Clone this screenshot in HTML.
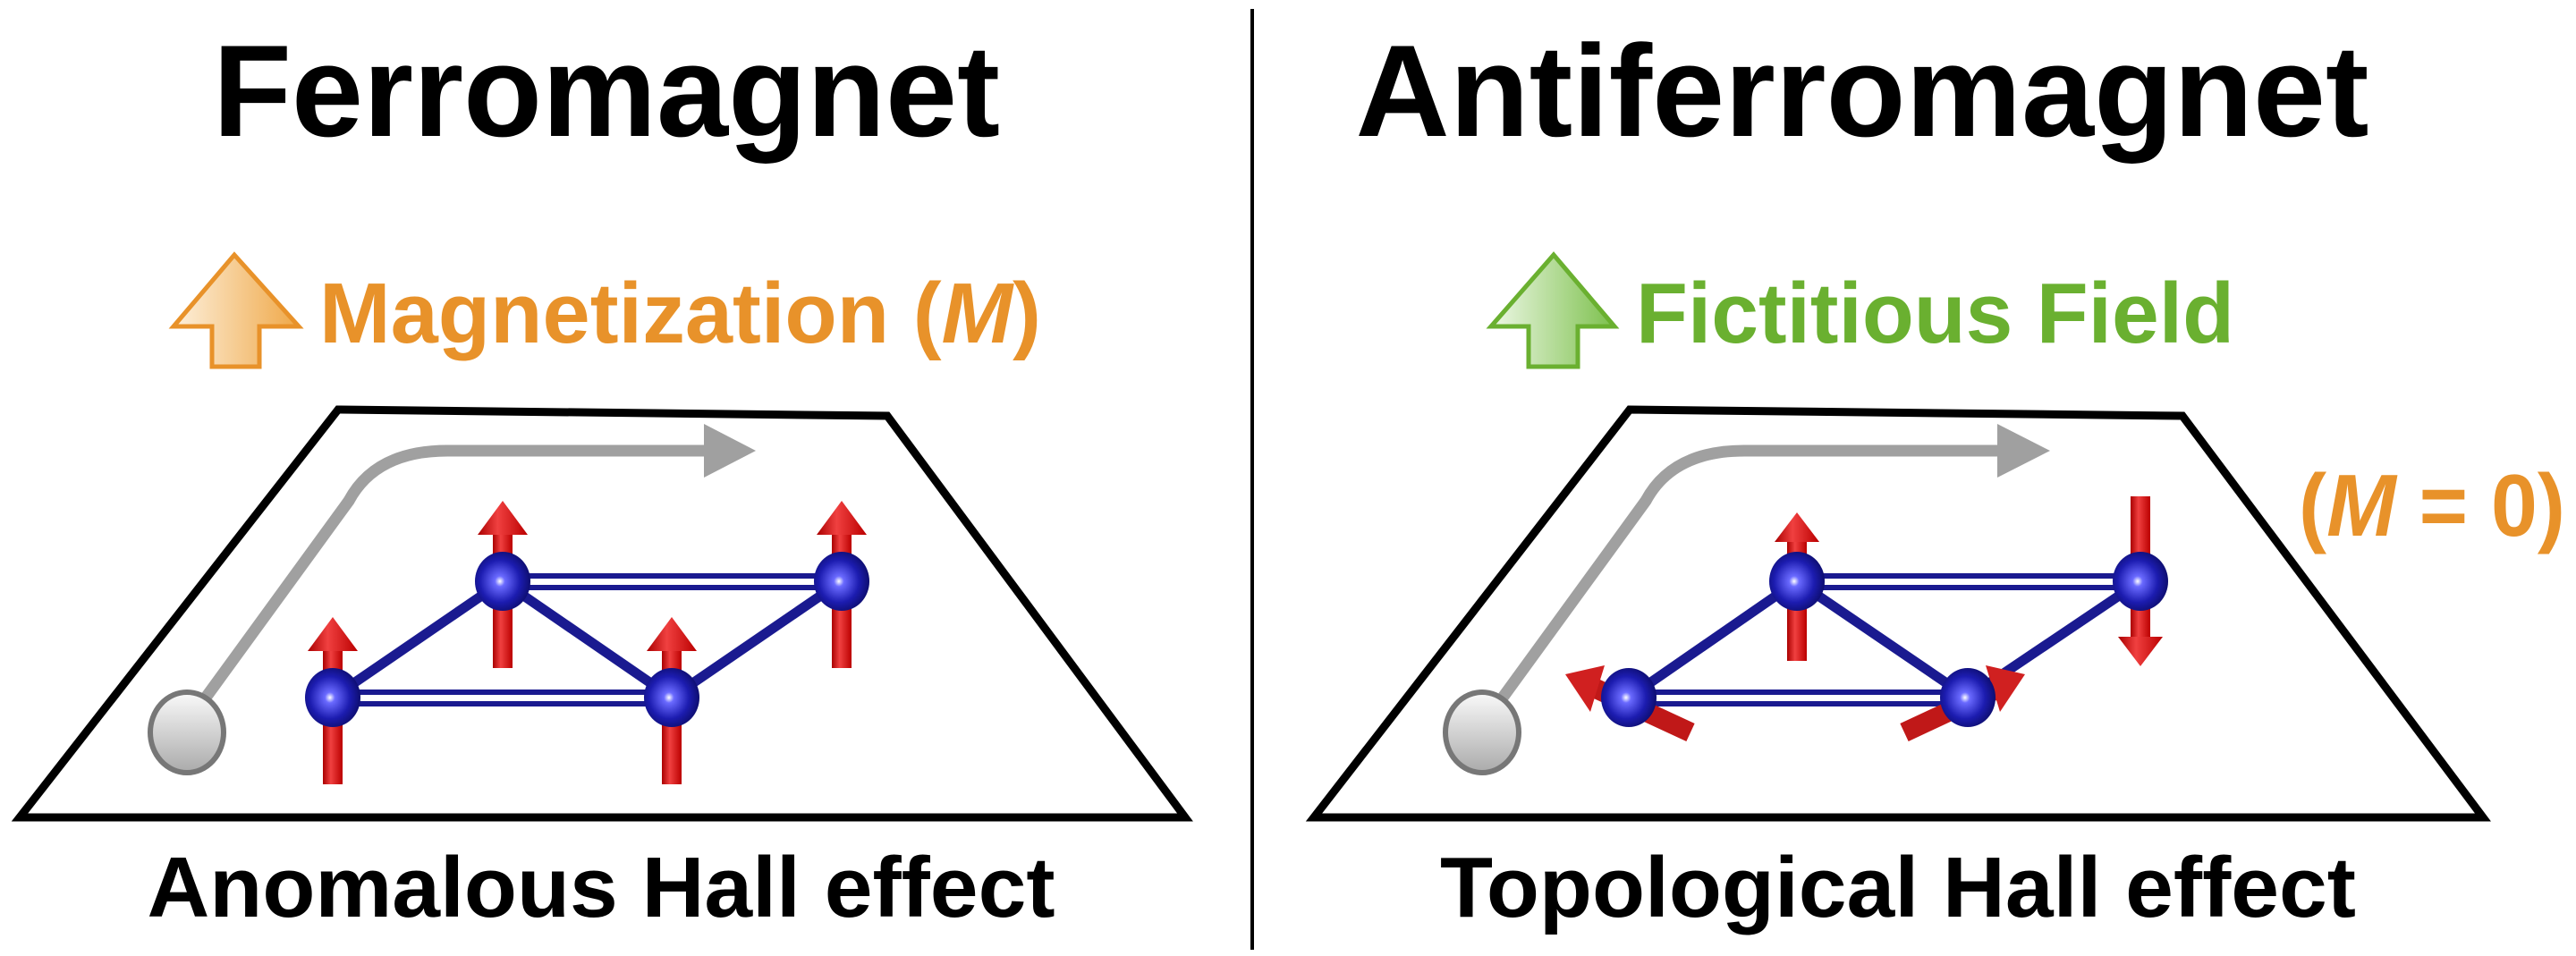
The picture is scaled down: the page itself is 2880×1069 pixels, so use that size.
<!DOCTYPE html>
<html><head><meta charset="utf-8"><style>html,body{margin:0;padding:0;background:#fff}svg{display:block}</style></head><body>
<svg width="2880" height="1069" viewBox="0 0 2880 1069" xmlns="http://www.w3.org/2000/svg" font-family="'Liberation Sans', sans-serif" font-weight="bold">
<defs>
<radialGradient id="sph" cx="0.45" cy="0.5" r="0.6"><stop offset="0" stop-color="#ffffff"/><stop offset="0.15" stop-color="#6a6aff"/><stop offset="0.6" stop-color="#1c1cb0"/><stop offset="1" stop-color="#0a0a60"/></radialGradient>
<linearGradient id="red" x1="0" x2="1"><stop offset="0" stop-color="#a00"/><stop offset="0.4" stop-color="#f04040"/><stop offset="1" stop-color="#b00"/></linearGradient>
<linearGradient id="gball" x1="0" y1="0" x2="0" y2="1"><stop offset="0" stop-color="#fafafa"/><stop offset="1" stop-color="#aaa"/></linearGradient>
<linearGradient id="og" x1="0" x2="1"><stop offset="0" stop-color="#fdf0dc"/><stop offset="1" stop-color="#efa848"/></linearGradient>
<linearGradient id="gg" x1="0" x2="1"><stop offset="0" stop-color="#eef8e6"/><stop offset="1" stop-color="#7cc04c"/></linearGradient>
</defs>
<line x1="1400" y1="10" x2="1400" y2="1062" stroke="#000" stroke-width="4"/>
<text x="678" y="152" font-size="146" text-anchor="middle" textLength="880" lengthAdjust="spacingAndGlyphs">Ferromagnet</text>
<text x="2082" y="152" font-size="146" text-anchor="middle" textLength="1133" lengthAdjust="spacingAndGlyphs">Antiferromagnet</text>
<path d="M262,285 L334,365 L290,365 L290,410 L237,410 L237,365 L194,365 Z" fill="url(#og)" stroke="#e8922a" stroke-width="5"/>
<text x="357" y="383" font-size="96" fill="#e8922a" textLength="807" lengthAdjust="spacingAndGlyphs">Magnetization (<tspan font-style="italic">M</tspan>)</text>
<path d="M1737,285 L1805,365 L1764,365 L1764,410 L1709,410 L1709,365 L1667,365 Z" fill="url(#gg)" stroke="#6ab030" stroke-width="5"/>
<text x="1829" y="383" font-size="96" fill="#6ab030" textLength="669" lengthAdjust="spacingAndGlyphs">Fictitious Field</text>
<text x="2570" y="599" font-size="98" fill="#e8922a" textLength="298" lengthAdjust="spacingAndGlyphs">(<tspan font-style="italic">M</tspan> = 0)</text>
<path d="M378,458 L992,465 L1325,914 L22,914 Z" fill="none" stroke="#000" stroke-width="9"/>
<path d="M1822,458 L2440,465 L2776,914 L1469,914 Z" fill="none" stroke="#000" stroke-width="9"/>
<g fill="none" stroke="#a0a0a0" stroke-width="13">
<path d="M230,780 L390,560 Q420,504 500,504 L795,504"/>
<path d="M1680,780 L1840,560 Q1870,504 1950,504 L2240,504"/>
</g>
<path d="M787,474 L845,504 L787,534 Z" fill="#a0a0a0"/>
<path d="M2233,474 L2292,504 L2233,534 Z" fill="#a0a0a0"/>
<ellipse cx="209" cy="819" rx="41" ry="45" fill="url(#gball)" stroke="#777" stroke-width="6"/>
<ellipse cx="1657" cy="819" rx="41" ry="45" fill="url(#gball)" stroke="#777" stroke-width="6"/>
<g stroke="#1a1a90">
<line x1="372" y1="780" x2="562" y2="650" stroke-width="11"/>
<line x1="562" y1="650" x2="751" y2="780" stroke-width="11"/>
<line x1="751" y1="780" x2="941" y2="650" stroke-width="11"/>
<line x1="372" y1="774" x2="751" y2="774" stroke-width="6"/><line x1="372" y1="787" x2="751" y2="787" stroke-width="6"/>
<line x1="562" y1="644" x2="941" y2="644" stroke-width="6"/><line x1="562" y1="657" x2="941" y2="657" stroke-width="6"/>
</g>
<g fill="url(#red)">
<rect x="551" y="590" width="22" height="157"/><path d="M562,560 L590,598 L534,598 Z"/>
<rect x="930" y="590" width="22" height="157"/><path d="M941,560 L969,598 L913,598 Z"/>
<rect x="361" y="720" width="22" height="157"/><path d="M372,690 L400,728 L344,728 Z"/>
<rect x="740" y="720" width="22" height="157"/><path d="M751,690 L779,728 L723,728 Z"/>
</g>
<g fill="url(#sph)">
<ellipse cx="372" cy="780" rx="31" ry="33"/><ellipse cx="562" cy="650" rx="31" ry="33"/>
<ellipse cx="751" cy="780" rx="31" ry="33"/><ellipse cx="941" cy="650" rx="31" ry="33"/>
</g>
<g stroke="#1a1a90">
<line x1="1821" y1="780" x2="2009" y2="650" stroke-width="11"/>
<line x1="2009" y1="650" x2="2200" y2="780" stroke-width="11"/>
<line x1="2200" y1="780" x2="2393" y2="650" stroke-width="11"/>
<line x1="1821" y1="774" x2="2200" y2="774" stroke-width="6"/><line x1="1821" y1="787" x2="2200" y2="787" stroke-width="6"/>
<line x1="2009" y1="644" x2="2393" y2="644" stroke-width="6"/><line x1="2009" y1="657" x2="2393" y2="657" stroke-width="6"/>
</g>
<g fill="url(#red)">
<rect x="1998" y="595" width="22" height="144"/><path d="M2009,573 L2034,606 L1984,606 Z"/>
<rect x="2382" y="555" width="22" height="160"/><path d="M2393,745 L2418,712 L2368,712 Z"/>
</g>
<g stroke="#c01818" stroke-width="22" stroke-linecap="butt">
<line x1="1890" y1="819" x2="1780" y2="768"/>
<line x1="2129" y1="819" x2="2238" y2="768"/>
</g>
<path d="M1750,754 L1794,744 L1778,796 Z" fill="#d02020"/>
<path d="M2264,754 L2220,744 L2236,796 Z" fill="#d02020"/>
<g fill="url(#sph)">
<ellipse cx="1821" cy="780" rx="31" ry="33"/><ellipse cx="2009" cy="650" rx="31" ry="33"/>
<ellipse cx="2200" cy="780" rx="31" ry="33"/><ellipse cx="2393" cy="650" rx="31" ry="33"/>
</g>
<text x="672" y="1025" font-size="96" text-anchor="middle" textLength="1015" lengthAdjust="spacingAndGlyphs">Anomalous Hall effect</text>
<text x="2122" y="1025" font-size="96" text-anchor="middle" textLength="1024" lengthAdjust="spacingAndGlyphs">Topological Hall effect</text>
</svg>
</body></html>
